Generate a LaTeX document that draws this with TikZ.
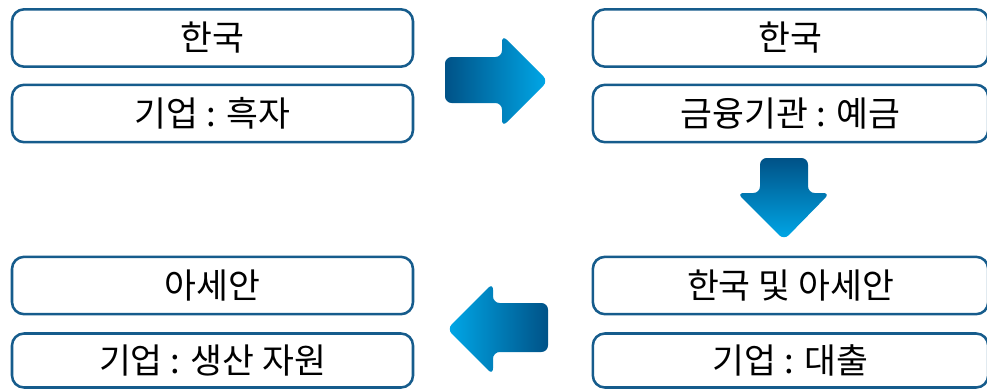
\documentclass[tikz,border=0pt]{standalone}
\usepackage{fontspec}
\newfontfamily\kr{Noto Sans CJK KR}
\definecolor{boxline}{RGB}{22,92,140}
\definecolor{arrdark}{RGB}{0,82,135}
\definecolor{arrlight}{RGB}{0,168,232}
\tikzset{
  flowbox/.style={draw=boxline, line width=1.9pt, rounded corners=9pt, fill=white,
    minimum height=43pt, inner sep=0pt, font=\kr\fontsize{26}{31}\selectfont},
  leftbox/.style={flowbox, minimum width=300.75pt},
  rightbox/.style={flowbox, minimum width=296.5pt},
}
\begin{document}
\begin{tikzpicture}[x=0.75pt, y=-0.75pt]
  \useasboundingbox (0,0) rectangle (987,389);
  \clip (0,0) rectangle (987,389);
  % korea side
  \node[leftbox] (kr1) at (212.5,38) {한국};
  \node[leftbox] (kr2) at (212.5,113.5) {기업 : 흑자};
  % finance side
  \node[rightbox] (fin1) at (790.5,38) {한국};
  \node[rightbox] (fin2) at (790.5,113.5) {금융기관 : 예금};
  % loans
  \node[rightbox] (loan1) at (790.5,285.5) {한국 및 아세안};
  \node[rightbox, minimum height=40.5pt] (loan2) at (790.5,360.5) {기업 : 대출};
  % asean side
  \node[leftbox] (asean1) at (212.5,285.5) {아세안};
  \node[leftbox, minimum height=40.5pt] (asean2) at (212.5,360.5) {기업 : 생산 자원};
  % block arrows
  \shade[left color=arrdark, right color=arrlight, rounded corners=5pt]
    (445,57) -- (502,57) -- (502,35) -- (548,81) -- (502,127) -- (502,103) -- (445,103) -- cycle;
  \shade[top color=arrdark, bottom color=arrlight, rounded corners=5pt]
    (760,158) -- (808,158) -- (808,193) -- (830,193) -- (784,240) -- (737,193) -- (760,193) -- cycle;
  \shade[left color=arrlight, right color=arrdark, rounded corners=5pt]
    (548,303) -- (548,352) -- (493,352) -- (493,375) -- (447,329) -- (493,283) -- (493,303) -- cycle;
\end{tikzpicture}
\end{document}
